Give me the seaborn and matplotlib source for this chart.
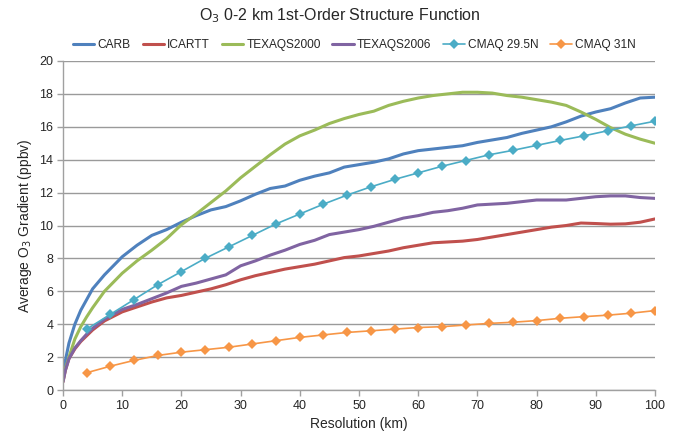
import matplotlib
matplotlib.use("Agg")
import matplotlib.pyplot as plt
import seaborn as sns
import pandas as pd

# ---- data ----
km = [0, 0.4, 1, 2, 3, 4, 5, 7, 10, 12.5, 15, 17.5, 20, 22.5, 25, 27.5, 30, 32.5, 35,
      37.5, 40, 42.5, 45, 47.5, 50, 52.5, 55, 57.5, 60, 62.5, 65, 67.5, 70, 72.5, 75,
      77.5, 80, 82.5, 85, 87.5, 90, 92.5, 95, 97.5, 100]
carb = [0.6, 1.8, 2.85, 4.0, 4.85, 5.5, 6.15, 7.0, 8.1, 8.8, 9.4, 9.75, 10.2, 10.6, 10.95,
        11.15, 11.5, 11.9, 12.25, 12.4, 12.75, 13.0, 13.2, 13.55, 13.7, 13.85, 14.05, 14.35,
        14.55, 14.65, 14.75, 14.85, 15.05, 15.2, 15.35, 15.6, 15.8, 16.0, 16.3, 16.65, 16.9,
        17.1, 17.45, 17.75, 17.8]
icartt = [0.5, 1.2, 1.9, 2.5, 2.95, 3.3, 3.65, 4.2, 4.75, 5.05, 5.35, 5.6, 5.75, 5.95, 6.15,
          6.4, 6.7, 6.95, 7.15, 7.35, 7.5, 7.65, 7.85, 8.05, 8.15, 8.3, 8.45, 8.65, 8.8, 8.95,
          9.0, 9.05, 9.15, 9.3, 9.45, 9.6, 9.75, 9.9, 10.0, 10.15, 10.12, 10.08, 10.1, 10.2, 10.4]
texaqs2000 = [0.6, 1.3, 2.0, 3.1, 3.85, 4.45, 5.0, 6.0, 7.1, 7.85, 8.5, 9.2, 10.05, 10.7,
              11.4, 12.1, 12.9, 13.6, 14.3, 14.95, 15.45, 15.8, 16.2, 16.5, 16.75, 16.95, 17.3,
              17.55, 17.75, 17.9, 18.0, 18.1, 18.1, 18.05, 17.9, 17.8, 17.65, 17.5, 17.3, 16.9,
              16.45, 15.95, 15.55, 15.25, 15.0]
texaqs2006 = [0.5, 1.2, 1.9, 2.55, 3.0, 3.4, 3.75, 4.3, 4.9, 5.2, 5.55, 5.9, 6.3, 6.5, 6.75,
              7.0, 7.55, 7.85, 8.2, 8.5, 8.85, 9.1, 9.45, 9.6, 9.75, 9.95, 10.2, 10.45, 10.6,
              10.8, 10.9, 11.05, 11.25, 11.3, 11.35, 11.45, 11.55, 11.55, 11.55, 11.65, 11.75,
              11.8, 11.8, 11.7, 11.65]
cmaq_km = [4, 8, 12, 16, 20, 24, 28, 32, 36, 40, 44, 48, 52, 56, 60, 64, 68, 72, 76, 80,
           84, 88, 92, 96, 100]
cmaq_295 = [3.7, 4.6, 5.5, 6.4, 7.2, 8.0, 8.7, 9.4, 10.1, 10.7, 11.3, 11.85, 12.35, 12.8,
            13.2, 13.6, 13.95, 14.3, 14.57, 14.87, 15.17, 15.45, 15.76, 16.06, 16.34]
cmaq_31 = [1.05, 1.45, 1.8, 2.1, 2.3, 2.45, 2.6, 2.8, 3.0, 3.2, 3.35, 3.5, 3.6, 3.7, 3.8,
           3.85, 3.95, 4.05, 4.12, 4.22, 4.36, 4.46, 4.55, 4.67, 4.83]

sns.set_theme(style="white")
plt.rcParams['font.family'] = ['Liberation Sans', 'DejaVu Sans']

fig = plt.figure(figsize=(6.74, 4.42), dpi=100)
ax = fig.add_axes([0.0935, 0.1176, 0.8783, 0.7444])

lines = [
    ("CARB", km, carb, "#4F81BD"),
    ("ICARTT", km, icartt, "#C0504D"),
    ("TEXAQS2000", km, texaqs2000, "#9BBB59"),
    ("TEXAQS2006", km, texaqs2006, "#8064A2"),
]
for name, x, y, c in lines:
    df = pd.DataFrame({"x": x, "y": y})
    sns.lineplot(data=df, x="x", y="y", ax=ax, color=c, linewidth=2.2, label=name)

for name, x, y, c in [("CMAQ 29.5N", cmaq_km, cmaq_295, "#4BACC6"),
                      ("CMAQ 31N", cmaq_km, cmaq_31, "#F79646")]:
    df = pd.DataFrame({"x": x, "y": y})
    sns.lineplot(data=df, x="x", y="y", ax=ax, color=c, linewidth=1.2, marker="D",
                 markersize=5, markeredgewidth=0, label=name)

ax.set_xlim(0, 100)
ax.set_ylim(0, 20)
ax.set_xticks(range(0, 101, 10))
ax.set_yticks(range(0, 21, 2))
ax.yaxis.grid(True, color="#9a9a9a", linewidth=1)
ax.xaxis.grid(False)
ax.set_axisbelow(True)
for s in ["top", "right"]:
    ax.spines[s].set_visible(False)
for s in ["left", "bottom"]:
    ax.spines[s].set_color("#a0a0a0")
    ax.spines[s].set_linewidth(1)
ax.tick_params(axis="both", which="both", direction="out", length=4, width=1,
               color="#a0a0a0", labelsize=9, pad=3, left=True, bottom=True)
ax.set_xlabel("Resolution (km)", fontsize=10)
ax.set_ylabel("Average O$_3$ Gradient (ppbv)", fontsize=10)
fig.suptitle("O$_3$ 0-2 km 1st-Order Structure Function", fontsize=11.5, x=0.504, y=0.985)

leg = ax.legend(loc="lower center", bbox_to_anchor=(0.492, 1.005), ncol=6, frameon=False,
                fontsize=8.6, handlelength=1.8, handletextpad=0.25, columnspacing=1.0,
                borderaxespad=0.3)

fig.savefig("out.png", dpi=100)
